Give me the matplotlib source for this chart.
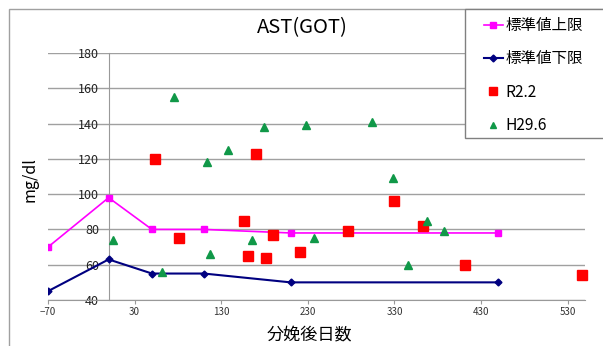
import matplotlib
matplotlib.use("Agg")
import matplotlib.pyplot as plt
from matplotlib.patches import Rectangle

plt.rcParams["font.family"] = ["Noto Sans CJK JP", "DejaVu Sans"]

# reference range (upper / lower limit) vs. days after calving
std_days = [-70, 0, 50, 110, 210, 450]
std_upper = [70, 98, 80, 80, 78, 78]
std_lower = [45, 63, 55, 55, 50, 50]

# R2.2 measurements
r22_days = [54, 170, 81, 156, 161, 182, 190, 221, 276, 330, 363, 411, 546]
r22_ast = [120, 123, 75, 85, 65, 64, 77, 67, 79, 96, 82, 60, 54]

# H29.6 measurements
h296_days = [75, 114, 138, 179, 228, 304, 328, 5, 62, 117, 165, 237, 346, 368, 387]
h296_ast = [155, 118, 125, 138, 139, 141, 109, 74, 56, 66, 74, 75, 60, 85, 79]

xticks = [-70, 30, 130, 230, 330, 430, 530]
yticks = [40, 60, 80, 100, 120, 140, 160, 180]

W, H = 603, 346
fig = plt.figure(figsize=(W / 100, H / 100), dpi=100)
ax = fig.add_axes([48 / W, 1 - 300 / H, (585 - 48) / W, (300 - 53) / H])

ax.plot(std_days, std_upper, color="#ff00ff", lw=1.2, marker="s", ms=5,
        label="標準値上限", zorder=3)
ax.plot(std_days, std_lower, color="#000080", lw=1.5, marker="D", ms=3.5,
        label="標準値下限", zorder=3)
ax.plot(r22_days, r22_ast, ls="none", marker="s", ms=7.5, color="#ff0000",
        label="R2.2", zorder=4, clip_on=False)
ax.plot(h296_days, h296_ast, ls="none", marker="^", ms=5.5, color="#109848",
        label="H29.6", zorder=4, clip_on=False)

ax.set_xlim(-70, 550)
ax.set_ylim(40, 180)
ax.set_xticks(xticks)
ax.set_yticks(yticks)

for s in ["top", "right"]:
    ax.spines[s].set_visible(False)
ax.spines["left"].set_position(("data", 0))
ax.spines["left"].set_color("#999999")
ax.spines["bottom"].set_color("#999999")
ax.yaxis.grid(True, color="#a0a0a0", lw=1.0)
ax.set_axisbelow(True)

ax.tick_params(axis="y", length=0, pad=7, labelsize=9, labelcolor="#222222")
ax.tick_params(axis="x", length=3, width=0.8, color="#999999", pad=2,
               labelsize=7, labelcolor="#333333")

ax.set_xlabel("分娩後日数", fontsize=12.3)
ax.xaxis.set_label_coords((309 - 48) / 537, -(326 - 300) / 247)
ax.set_ylabel("mg/dl", fontsize=11.5)
ax.yaxis.set_label_coords((38 - 48) / 537, (300 - 180) / 247)

fig.text(302 / W, 1 - 28 / H, "AST(GOT)", fontsize=14.5, ha="center", va="center")

# chart border and legend box
fig.add_artist(Rectangle((9 / W, -0.1), 1.2, 1.1 - 9 / H, transform=fig.transFigure,
                         fill=False, edgecolor="#a0a0a0", lw=1.0))
fig.add_artist(Rectangle((465 / W, 1 - 138 / H), 0.5, (138 - 9) / H,
                         transform=fig.transFigure, facecolor="white",
                         edgecolor="#808080", lw=1.0))

leg = fig.legend(loc="upper left", bbox_to_anchor=(484 / W, 1 - 17 / H),
                 frameon=False, fontsize=11.2, handlelength=1.2,
                 handletextpad=0.2, borderpad=0, borderaxespad=0,
                 labelspacing=1.05)
leg.set_zorder(5)
for h, ms in zip(leg.legend_handles, [5, 3.5, 6, 5]):
    h.set_markersize(ms)

fig.savefig("out.png", dpi=100)
